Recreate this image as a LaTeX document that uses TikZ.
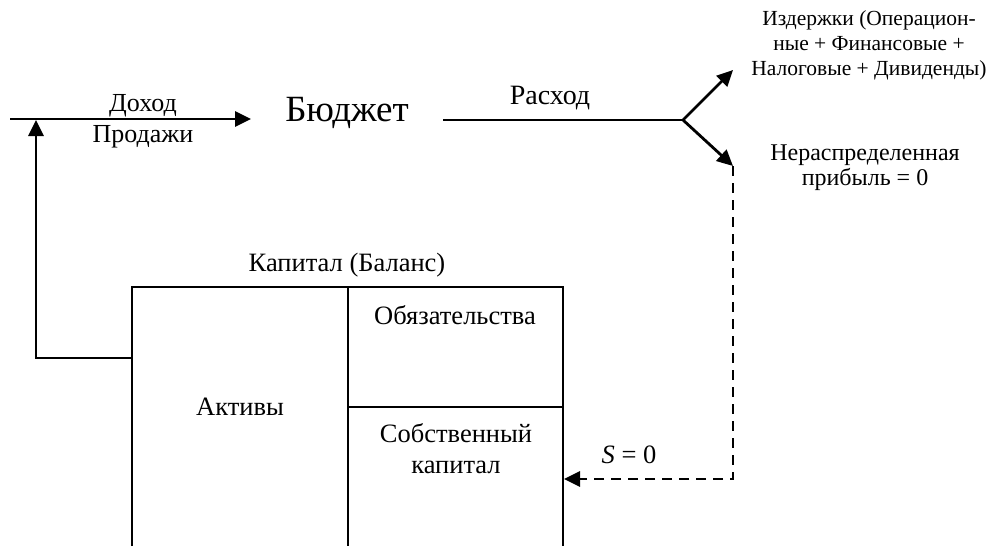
\documentclass[tikz,border=0pt]{standalone}
\usepackage{fontspec}
\setmainfont{Liberation Serif}
\usetikzlibrary{calc}
\usetikzlibrary{arrows.meta}
\tikzset{
	flow/.style={line width=2.8pt,-{Triangle[length=16pt,width=15pt]}},
	wall/.style={line width=2.4pt},
	txt/.style={inner sep=0pt,align=center,font=\fontsize{26.5}{31}\selectfont},
	smalltxt/.style={inner sep=0pt,align=center,font=\fontsize{21.5}{25}\selectfont},
}

\begin{document}
\begin{tikzpicture}[x=1pt,y=-1pt]
		\useasboundingbox (0,0) rectangle (987,546);
		% budget line
		\coordinate (start) at (10,119);
		\coordinate (intip) at (251,119);
		\node[txt,font=\fontsize{26}{31}\selectfont] (income) at (143,106) {Доход};
		\node[txt,font=\fontsize{26}{31}\selectfont] (sales) at (143,137) {Продажи};
		\node[txt,font=\fontsize{37}{42}\selectfont] (budget) at (347,113) {Бюджет};
		\coordinate (outstart) at (443,120);
		\coordinate (fork) at (683,120);
		\node[txt,font=\fontsize{28}{32}\selectfont] (expense) at (550,98) {Расход};
		\draw[flow] (start) -- (intip);
		\draw[flow,-] (outstart) -- (fork);
		\coordinate (costtip) at (733,70);
		\coordinate (retaintip) at (733,166);
		\draw[flow] (fork) -- (costtip);
		\draw[flow] (fork) -- (retaintip);
		\node[smalltxt] (costs) at (869,45) {Издержки (Операцион-\\ные + Финансовые +\\Налоговые + Дивиденды)};
		\node[smalltxt,font=\fontsize{24}{25}\selectfont] (retained) at (865,168) {Нераспределенная\\прибыль = 0};
		% balance
		\node[txt] (capital) at (347,265) {Капитал (Баланс)};
		\coordinate (nw) at (132,287);
		\coordinate (nm) at (348,287);
		\coordinate (ne) at (563,287);
		\draw[wall] (132,546) -- (nw) -- (ne) -- (563,546);
		\draw[wall] (nm) -- (348,546);
		\draw[wall] (348,407) -- (563,407);
		\node[txt] (liab) at (455,315) {Обязательства};
		\node[txt] (assets) at (240,407) {Активы};
		\node[txt] (equity) at (456,449) {Собственный\\капитал};
		% feedback
		\coordinate (aleft) at (132,358);
		\coordinate (up) at (36,358);
		\draw[flow] (aleft) -- (up) -- (36,120);
		\coordinate (corner) at (733,479);
		\coordinate (eqin) at (564,479);
		\draw[flow,dash pattern=on 10pt off 7pt] (retaintip) -- (corner) -- (eqin);
		\node[txt] (szero) at (629,455) {\textit{S} = 0};
	\end{tikzpicture}
\end{document}
